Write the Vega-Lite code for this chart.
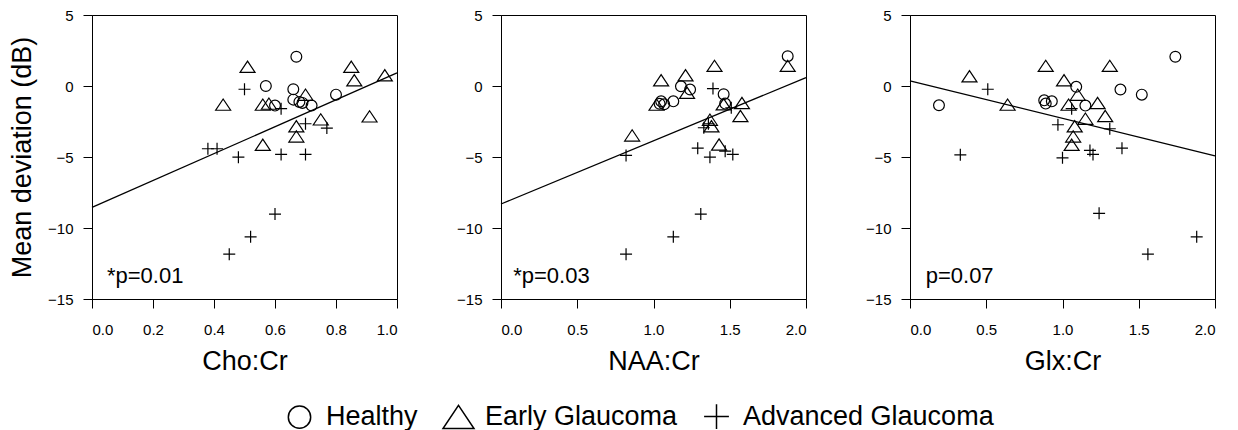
{
  "$schema": "https://vega.github.io/schema/vega-lite/v6.json",
  "background": "white",
  "padding": {"left": 8, "top": 7, "right": 5, "bottom": 0},
  "bounds": "flush",
  "spacing": 104,
  "datasets": {
    "pts": [
      {"m": "Cho:Cr", "g": "Healthy", "x": 0.67, "y": 2.06},
      {"m": "Cho:Cr", "g": "Healthy", "x": 0.57, "y": 0.0},
      {"m": "Cho:Cr", "g": "Healthy", "x": 0.66, "y": -0.23},
      {"m": "Cho:Cr", "g": "Healthy", "x": 0.66, "y": -0.96},
      {"m": "Cho:Cr", "g": "Healthy", "x": 0.68, "y": -1.12},
      {"m": "Cho:Cr", "g": "Healthy", "x": 0.69, "y": -1.19},
      {"m": "Cho:Cr", "g": "Healthy", "x": 0.6, "y": -1.38},
      {"m": "Cho:Cr", "g": "Healthy", "x": 0.72, "y": -1.38},
      {"m": "Cho:Cr", "g": "Healthy", "x": 0.8, "y": -0.61},
      {"m": "Cho:Cr", "g": "Early Glaucoma", "x": 0.51, "y": 1.35},
      {"m": "Cho:Cr", "g": "Early Glaucoma", "x": 0.43, "y": -1.31},
      {"m": "Cho:Cr", "g": "Early Glaucoma", "x": 0.56, "y": -1.31},
      {"m": "Cho:Cr", "g": "Early Glaucoma", "x": 0.58, "y": -1.24},
      {"m": "Cho:Cr", "g": "Early Glaucoma", "x": 0.7, "y": -0.61},
      {"m": "Cho:Cr", "g": "Early Glaucoma", "x": 0.85, "y": 1.35},
      {"m": "Cho:Cr", "g": "Early Glaucoma", "x": 0.86, "y": 0.41},
      {"m": "Cho:Cr", "g": "Early Glaucoma", "x": 0.96, "y": 0.76},
      {"m": "Cho:Cr", "g": "Early Glaucoma", "x": 0.91, "y": -2.14},
      {"m": "Cho:Cr", "g": "Early Glaucoma", "x": 0.75, "y": -2.35},
      {"m": "Cho:Cr", "g": "Early Glaucoma", "x": 0.67, "y": -2.84},
      {"m": "Cho:Cr", "g": "Early Glaucoma", "x": 0.67, "y": -3.55},
      {"m": "Cho:Cr", "g": "Early Glaucoma", "x": 0.56, "y": -4.14},
      {"m": "Cho:Cr", "g": "Advanced Glaucoma", "x": 0.5, "y": -0.23},
      {"m": "Cho:Cr", "g": "Advanced Glaucoma", "x": 0.62, "y": -1.6},
      {"m": "Cho:Cr", "g": "Advanced Glaucoma", "x": 0.7, "y": -2.66},
      {"m": "Cho:Cr", "g": "Advanced Glaucoma", "x": 0.77, "y": -2.96},
      {"m": "Cho:Cr", "g": "Advanced Glaucoma", "x": 0.38, "y": -4.42},
      {"m": "Cho:Cr", "g": "Advanced Glaucoma", "x": 0.41, "y": -4.42},
      {"m": "Cho:Cr", "g": "Advanced Glaucoma", "x": 0.48, "y": -5.01},
      {"m": "Cho:Cr", "g": "Advanced Glaucoma", "x": 0.62, "y": -4.82},
      {"m": "Cho:Cr", "g": "Advanced Glaucoma", "x": 0.7, "y": -4.82},
      {"m": "Cho:Cr", "g": "Advanced Glaucoma", "x": 0.6, "y": -9.02},
      {"m": "Cho:Cr", "g": "Advanced Glaucoma", "x": 0.52, "y": -10.62},
      {"m": "Cho:Cr", "g": "Advanced Glaucoma", "x": 0.45, "y": -11.84},

      {"m": "NAA:Cr", "g": "Healthy", "x": 1.88, "y": 2.1},
      {"m": "NAA:Cr", "g": "Healthy", "x": 1.18, "y": -0.02},
      {"m": "NAA:Cr", "g": "Healthy", "x": 1.24, "y": -0.25},
      {"m": "NAA:Cr", "g": "Healthy", "x": 1.05, "y": -1.08},
      {"m": "NAA:Cr", "g": "Healthy", "x": 1.07, "y": -1.29},
      {"m": "NAA:Cr", "g": "Healthy", "x": 1.13, "y": -1.08},
      {"m": "NAA:Cr", "g": "Healthy", "x": 1.46, "y": -0.58},
      {"m": "NAA:Cr", "g": "Healthy", "x": 1.47, "y": -1.24},
      {"m": "NAA:Cr", "g": "Healthy", "x": 1.04, "y": -1.25},
      {"m": "NAA:Cr", "g": "Early Glaucoma", "x": 1.4, "y": 1.42},
      {"m": "NAA:Cr", "g": "Early Glaucoma", "x": 1.05, "y": 0.41},
      {"m": "NAA:Cr", "g": "Early Glaucoma", "x": 1.21, "y": 0.76},
      {"m": "NAA:Cr", "g": "Early Glaucoma", "x": 1.22, "y": -0.47},
      {"m": "NAA:Cr", "g": "Early Glaucoma", "x": 1.88, "y": 1.42},
      {"m": "NAA:Cr", "g": "Early Glaucoma", "x": 1.02, "y": -1.31},
      {"m": "NAA:Cr", "g": "Early Glaucoma", "x": 1.58, "y": -1.2},
      {"m": "NAA:Cr", "g": "Early Glaucoma", "x": 1.57, "y": -2.11},
      {"m": "NAA:Cr", "g": "Early Glaucoma", "x": 1.46, "y": -1.29},
      {"m": "NAA:Cr", "g": "Early Glaucoma", "x": 1.37, "y": -2.37},
      {"m": "NAA:Cr", "g": "Early Glaucoma", "x": 1.38, "y": -2.84},
      {"m": "NAA:Cr", "g": "Early Glaucoma", "x": 0.86, "y": -3.48},
      {"m": "NAA:Cr", "g": "Early Glaucoma", "x": 1.43, "y": -4.12},
      {"m": "NAA:Cr", "g": "Advanced Glaucoma", "x": 1.39, "y": -0.18},
      {"m": "NAA:Cr", "g": "Advanced Glaucoma", "x": 1.51, "y": -1.53},
      {"m": "NAA:Cr", "g": "Advanced Glaucoma", "x": 1.33, "y": -2.94},
      {"m": "NAA:Cr", "g": "Advanced Glaucoma", "x": 1.36, "y": -2.66},
      {"m": "NAA:Cr", "g": "Advanced Glaucoma", "x": 1.29, "y": -4.38},
      {"m": "NAA:Cr", "g": "Advanced Glaucoma", "x": 1.37, "y": -5.01},
      {"m": "NAA:Cr", "g": "Advanced Glaucoma", "x": 1.47, "y": -4.59},
      {"m": "NAA:Cr", "g": "Advanced Glaucoma", "x": 1.52, "y": -4.82},
      {"m": "NAA:Cr", "g": "Advanced Glaucoma", "x": 0.82, "y": -4.89},
      {"m": "NAA:Cr", "g": "Advanced Glaucoma", "x": 1.31, "y": -9.02},
      {"m": "NAA:Cr", "g": "Advanced Glaucoma", "x": 1.13, "y": -10.62},
      {"m": "NAA:Cr", "g": "Advanced Glaucoma", "x": 0.82, "y": -11.84},

      {"m": "Glx:Cr", "g": "Healthy", "x": 1.74, "y": 2.06},
      {"m": "Glx:Cr", "g": "Healthy", "x": 0.19, "y": -1.36},
      {"m": "Glx:Cr", "g": "Healthy", "x": 1.09, "y": -0.06},
      {"m": "Glx:Cr", "g": "Healthy", "x": 1.38, "y": -0.25},
      {"m": "Glx:Cr", "g": "Healthy", "x": 1.52, "y": -0.61},
      {"m": "Glx:Cr", "g": "Healthy", "x": 0.88, "y": -1.01},
      {"m": "Glx:Cr", "g": "Healthy", "x": 0.89, "y": -1.24},
      {"m": "Glx:Cr", "g": "Healthy", "x": 0.93, "y": -1.08},
      {"m": "Glx:Cr", "g": "Healthy", "x": 1.15, "y": -1.38},
      {"m": "Glx:Cr", "g": "Early Glaucoma", "x": 0.39, "y": 0.69},
      {"m": "Glx:Cr", "g": "Early Glaucoma", "x": 0.89, "y": 1.42},
      {"m": "Glx:Cr", "g": "Early Glaucoma", "x": 1.31, "y": 1.42},
      {"m": "Glx:Cr", "g": "Early Glaucoma", "x": 1.01, "y": 0.41},
      {"m": "Glx:Cr", "g": "Early Glaucoma", "x": 0.64, "y": -1.31},
      {"m": "Glx:Cr", "g": "Early Glaucoma", "x": 1.1, "y": -0.61},
      {"m": "Glx:Cr", "g": "Early Glaucoma", "x": 1.04, "y": -1.31},
      {"m": "Glx:Cr", "g": "Early Glaucoma", "x": 1.23, "y": -1.2},
      {"m": "Glx:Cr", "g": "Early Glaucoma", "x": 1.28, "y": -2.11},
      {"m": "Glx:Cr", "g": "Early Glaucoma", "x": 1.15, "y": -2.3},
      {"m": "Glx:Cr", "g": "Early Glaucoma", "x": 1.08, "y": -2.84},
      {"m": "Glx:Cr", "g": "Early Glaucoma", "x": 1.07, "y": -3.55},
      {"m": "Glx:Cr", "g": "Early Glaucoma", "x": 1.06, "y": -4.14},
      {"m": "Glx:Cr", "g": "Advanced Glaucoma", "x": 0.51, "y": -0.23},
      {"m": "Glx:Cr", "g": "Advanced Glaucoma", "x": 1.06, "y": -1.6},
      {"m": "Glx:Cr", "g": "Advanced Glaucoma", "x": 0.97, "y": -2.73},
      {"m": "Glx:Cr", "g": "Advanced Glaucoma", "x": 1.31, "y": -3.01},
      {"m": "Glx:Cr", "g": "Advanced Glaucoma", "x": 0.33, "y": -4.85},
      {"m": "Glx:Cr", "g": "Advanced Glaucoma", "x": 1.0, "y": -5.06},
      {"m": "Glx:Cr", "g": "Advanced Glaucoma", "x": 1.18, "y": -4.54},
      {"m": "Glx:Cr", "g": "Advanced Glaucoma", "x": 1.2, "y": -4.82},
      {"m": "Glx:Cr", "g": "Advanced Glaucoma", "x": 1.39, "y": -4.38},
      {"m": "Glx:Cr", "g": "Advanced Glaucoma", "x": 1.24, "y": -8.97},
      {"m": "Glx:Cr", "g": "Advanced Glaucoma", "x": 1.88, "y": -10.62},
      {"m": "Glx:Cr", "g": "Advanced Glaucoma", "x": 1.56, "y": -11.84}
    ],
    "lines": [
      {"m": "Cho:Cr", "x": 0, "y": -8.55},
      {"m": "Cho:Cr", "x": 1, "y": 0.92},
      {"m": "NAA:Cr", "x": 0, "y": -8.31},
      {"m": "NAA:Cr", "x": 2, "y": 0.59},
      {"m": "Glx:Cr", "x": 0, "y": 0.36},
      {"m": "Glx:Cr", "x": 2, "y": -4.92}
    ],
    "notes": [
      {"m": "Cho:Cr", "label": "*p=0.01", "x": 0.049, "y": -13.85},
      {"m": "NAA:Cr", "label": "*p=0.03", "x": 0.08, "y": -13.85},
      {"m": "Glx:Cr", "label": "p=0.07", "x": 0.103, "y": -13.85}
    ]
  },
  "hconcat": [
    {
      "width": 305, "height": 284,
      "layer": [
        {
          "data": {"name": "pts"},
          "transform": [{"filter": "datum.m === 'Cho:Cr'"}],
          "mark": {"type": "point", "filled": false, "color": "black", "strokeWidth": 1.2, "opacity": 1, "size": 225},
          "encoding": {
            "x": {"field": "x", "type": "quantitative", "scale": {"domain": [0, 1], "nice": false}, "axis": {"values": [0, 0.2, 0.4, 0.6, 0.8, 1.0], "format": ".1f", "title": "Cho:Cr"}},
            "y": {"field": "y", "type": "quantitative", "scale": {"domain": [-15, 5], "nice": false}, "axis": {"values": [-15, -10, -5, 0, 5], "title": "Mean deviation (dB)"}},
            "shape": {"field": "g", "type": "nominal", "scale": {"domain": ["Healthy", "Early Glaucoma", "Advanced Glaucoma"], "range": ["M-0.72,0A0.72,0.72 0 1,0 0.72,0A0.72,0.72 0 1,0 -0.72,0Z", "M0,-0.75L1,0.75L-1,0.75Z", "M-0.8,0L0.8,0M0,-0.8L0,0.8"]}, "legend": {"orient": "none", "legendX": 191, "legendY": 385, "direction": "horizontal", "title": null}}
          }
        },
        {
          "data": {"name": "lines"},
          "transform": [{"filter": "datum.m === 'Cho:Cr'"}],
          "mark": {"type": "line", "color": "black", "strokeWidth": 1.3},
          "encoding": {"x": {"field": "x", "type": "quantitative"}, "y": {"field": "y", "type": "quantitative"}}
        },
        {
          "data": {"name": "notes"},
          "transform": [{"filter": "datum.m === 'Cho:Cr'"}],
          "mark": {"type": "text", "align": "left", "baseline": "alphabetic", "fontSize": 22, "font": "Liberation Sans", "color": "black"},
          "encoding": {"x": {"field": "x", "type": "quantitative"}, "y": {"field": "y", "type": "quantitative"}, "text": {"field": "label"}}
        }
      ]
    },
    {
      "width": 305, "height": 284,
      "layer": [
        {
          "data": {"name": "pts"},
          "transform": [{"filter": "datum.m === 'NAA:Cr'"}],
          "mark": {"type": "point", "filled": false, "color": "black", "strokeWidth": 1.2, "opacity": 1, "size": 225},
          "encoding": {
            "x": {"field": "x", "type": "quantitative", "scale": {"domain": [0, 2], "nice": false}, "axis": {"values": [0, 0.5, 1.0, 1.5, 2.0], "format": ".1f", "title": "NAA:Cr"}},
            "y": {"field": "y", "type": "quantitative", "scale": {"domain": [-15, 5], "nice": false}, "axis": {"values": [-15, -10, -5, 0, 5], "title": null}},
            "shape": {"field": "g", "type": "nominal", "scale": {"domain": ["Healthy", "Early Glaucoma", "Advanced Glaucoma"], "range": ["M-0.72,0A0.72,0.72 0 1,0 0.72,0A0.72,0.72 0 1,0 -0.72,0Z", "M0,-0.75L1,0.75L-1,0.75Z", "M-0.8,0L0.8,0M0,-0.8L0,0.8"]}, "legend": {"orient": "none", "legendX": 191, "legendY": 385, "direction": "horizontal", "title": null}}
          }
        },
        {
          "data": {"name": "lines"},
          "transform": [{"filter": "datum.m === 'NAA:Cr'"}],
          "mark": {"type": "line", "color": "black", "strokeWidth": 1.3},
          "encoding": {"x": {"field": "x", "type": "quantitative"}, "y": {"field": "y", "type": "quantitative"}}
        },
        {
          "data": {"name": "notes"},
          "transform": [{"filter": "datum.m === 'NAA:Cr'"}],
          "mark": {"type": "text", "align": "left", "baseline": "alphabetic", "fontSize": 22, "font": "Liberation Sans", "color": "black"},
          "encoding": {"x": {"field": "x", "type": "quantitative"}, "y": {"field": "y", "type": "quantitative"}, "text": {"field": "label"}}
        }
      ]
    },
    {
      "width": 305, "height": 284,
      "layer": [
        {
          "data": {"name": "pts"},
          "transform": [{"filter": "datum.m === 'Glx:Cr'"}],
          "mark": {"type": "point", "filled": false, "color": "black", "strokeWidth": 1.2, "opacity": 1, "size": 225},
          "encoding": {
            "x": {"field": "x", "type": "quantitative", "scale": {"domain": [0, 2], "nice": false}, "axis": {"values": [0, 0.5, 1.0, 1.5, 2.0], "format": ".1f", "title": "Glx:Cr"}},
            "y": {"field": "y", "type": "quantitative", "scale": {"domain": [-15, 5], "nice": false}, "axis": {"values": [-15, -10, -5, 0, 5], "title": null}},
            "shape": {"field": "g", "type": "nominal", "scale": {"domain": ["Healthy", "Early Glaucoma", "Advanced Glaucoma"], "range": ["M-0.72,0A0.72,0.72 0 1,0 0.72,0A0.72,0.72 0 1,0 -0.72,0Z", "M0,-0.75L1,0.75L-1,0.75Z", "M-0.8,0L0.8,0M0,-0.8L0,0.8"]}, "legend": {"orient": "none", "legendX": 191, "legendY": 385, "direction": "horizontal", "title": null}}
          }
        },
        {
          "data": {"name": "lines"},
          "transform": [{"filter": "datum.m === 'Glx:Cr'"}],
          "mark": {"type": "line", "color": "black", "strokeWidth": 1.3},
          "encoding": {"x": {"field": "x", "type": "quantitative"}, "y": {"field": "y", "type": "quantitative"}}
        },
        {
          "data": {"name": "notes"},
          "transform": [{"filter": "datum.m === 'Glx:Cr'"}],
          "mark": {"type": "text", "align": "left", "baseline": "alphabetic", "fontSize": 22, "font": "Liberation Sans", "color": "black"},
          "encoding": {"x": {"field": "x", "type": "quantitative"}, "y": {"field": "y", "type": "quantitative"}, "text": {"field": "label"}}
        }
      ]
    }
  ],
  "resolve": {
    "scale": {"x": "independent", "y": "independent", "shape": "shared"},
    "legend": {"shape": "shared"}
  },
  "config": {
    "font": "Liberation Sans",
    "view": {"stroke": "black", "strokeWidth": 1},
    "axis": {
      "grid": false,
      "domainColor": "black",
      "tickColor": "black",
      "tickSize": 9,
      "labelColor": "black",
      "titleColor": "black",
      "labelFont": "Liberation Sans",
      "labelFontSize": 15,
      "titleFont": "Liberation Sans",
      "titleFontSize": 27,
      "titleFontWeight": "normal"
    },
    "axisX": {"labelPadding": 14, "titlePadding": 11},
    "axisY": {"labelPadding": 10, "titlePadding": 11},
    "legend": {
      "labelFont": "Liberation Sans",
      "labelFontSize": 27,
      "labelColor": "black",
      "labelLimit": 0,
      "symbolSize": 961,
      "symbolStrokeColor": "black",
      "symbolStrokeWidth": 1.5,
      "symbolFillColor": "transparent",
      "labelOffset": 10,
      "columnPadding": 22,
      "padding": 0
    }
  }
}
